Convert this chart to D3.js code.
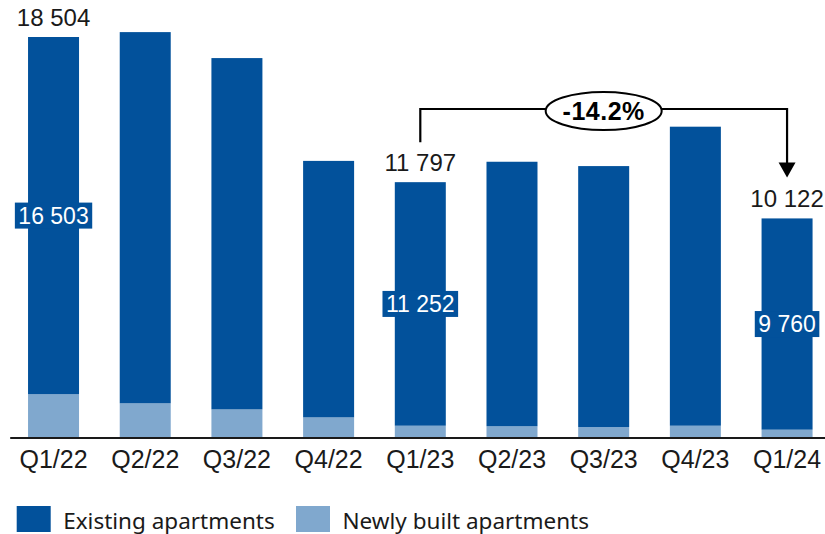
<!DOCTYPE html>
<html><head><meta charset="utf-8">
<script src="https://cdn.jsdelivr.net/npm/d3@7"></script>
<style>
html,body{margin:0;padding:0;background:#fff;}
svg{display:block;}
</style></head>
<body>
<svg id="chart" width="825" height="534"></svg>
<script>
const quarters = ["Q1/22","Q2/22","Q3/22","Q4/22","Q1/23","Q2/23","Q3/23","Q4/23","Q1/24"];
const existing = [16503, 17150, 16230, 11850, 11252, 12220, 12055, 13815, 9760];
const newlyBuilt = [2001, 1580, 1300, 930, 545, 520, 485, 545, 362];
const totalLabels = {"Q1/22": "18 504", "Q1/23": "11 797", "Q1/24": "10 122"};
const existingLabels = {"Q1/22": "16 503", "Q1/23": "11 252", "Q1/24": "9 760"};
const changeLabel = "-14.2%";
const changeFrom = "Q1/23", changeTo = "Q1/24";
const legendItems = ["Existing apartments", "Newly built apartments"];

const C_DARK = "#02519B", C_LIGHT = "#80A8CE", C_TEXT = "#1a1a1a";
const svg = d3.select("#chart");

const x = d3.scaleBand().domain(quarters).range([9.7, 830.9]).paddingInner(0.4438).paddingOuter(0.2);
const y = d3.scaleLinear().domain([0, 18504]).range([437.5, 37]);

const data = quarters.map((q,i)=>({q, e: existing[i], n: newlyBuilt[i], t: existing[i]+newlyBuilt[i]}));

// bars
const g = svg.append("g");
g.selectAll("rect.new").data(data).join("rect").attr("class","new")
  .attr("x", d=>x(d.q)).attr("width", x.bandwidth())
  .attr("y", d=>y(d.n)).attr("height", d=>y(0)-y(d.n)).attr("fill", C_LIGHT);
g.selectAll("rect.ex").data(data).join("rect").attr("class","ex")
  .attr("x", d=>x(d.q)).attr("width", x.bandwidth())
  .attr("y", d=>y(d.t)).attr("height", d=>y(d.n)-y(d.t)).attr("fill", C_DARK);

// axis
const ax = svg.append("g").attr("transform", `translate(0,${y(0)})`)
  .call(d3.axisBottom(x).tickSize(0).tickPadding(0));
ax.select(".domain").attr("stroke", "#1a1a1a").attr("stroke-width", 2);
ax.selectAll(".tick text").attr("font-family","Liberation Sans, Arial, sans-serif")
  .attr("font-size", 25).attr("fill", C_TEXT).attr("dy", null).attr("y", 30);

// total labels
const tl = data.filter(d=>totalLabels[d.q]);
svg.selectAll("text.tot").data(tl).join("text").attr("class","tot")
  .attr("x", d=>x(d.q)+x.bandwidth()/2).attr("y", d=>y(d.t)-11)
  .attr("text-anchor","middle").attr("font-family","Liberation Sans, Arial, sans-serif")
  .attr("font-size", 24).attr("fill", C_TEXT).text(d=>totalLabels[d.q]);

// inner labels with boxes
const il = data.filter(d=>existingLabels[d.q]);
const ig = svg.selectAll("g.inner").data(il).join("g").attr("class","inner");
ig.each(function(d){
  const gg = d3.select(this);
  const cx = x(d.q)+x.bandwidth()/2;
  const cy = (y(d.t)+y(d.n))/2;
  const t = gg.append("text").attr("x", cx).attr("y", cy+8)
    .attr("text-anchor","middle").attr("font-family","Liberation Sans, Arial, sans-serif")
    .attr("font-size", 23).attr("fill", "#fff").text(existingLabels[d.q]);
  const bb = t.node().getBBox();
  gg.insert("rect","text").attr("x", bb.x-3.5).attr("y", cy-13).attr("width", bb.width+7).attr("height", 26).attr("fill", C_DARK);
});

// change annotation
const d0 = data.find(d=>d.q===changeFrom), d1 = data.find(d=>d.q===changeTo);
const xa = x(changeFrom)+x.bandwidth()/2, xb = x(changeTo)+x.bandwidth()/2;
const yTop = 109;
const ya = y(d0.t)-40, yb = y(d1.t)-41;
svg.append("path").attr("d", `M${xa},${ya}V${yTop}H${xb}V${yb-14}`)
  .attr("fill","none").attr("stroke","#000").attr("stroke-width",2.2);
svg.append("path").attr("d", `M${xb-8.5},${yb-15}L${xb+8.5},${yb-15}L${xb},${yb}Z`).attr("fill","#000");
const ex = (xa+xb)/2;
svg.append("ellipse").attr("cx", ex).attr("cy", yTop+2).attr("rx", 58).attr("ry", 19)
  .attr("fill","#fff").attr("stroke","#000").attr("stroke-width",2);
svg.append("text").attr("x", ex).attr("y", yTop+10.5).attr("text-anchor","middle")
  .attr("font-family","Liberation Sans, Arial, sans-serif").attr("font-weight","bold")
  .attr("font-size", 25).attr("letter-spacing", 0.5).attr("fill","#000").text(changeLabel);

// legend
const lg = svg.append("g");
const lx = [16.7, 296];
legendItems.forEach((name,i)=>{
  lg.append("rect").attr("x", lx[i]).attr("y", 506).attr("width", 34).attr("height", 26).attr("fill", i===0?C_DARK:C_LIGHT);
  lg.append("text").attr("x", lx[i]+46.5).attr("y", 528.5)
    .attr("font-family","Noto Sans, sans-serif").attr("font-size", 22.5).attr("fill", C_TEXT).text(name);
});
</script>
</body></html>
